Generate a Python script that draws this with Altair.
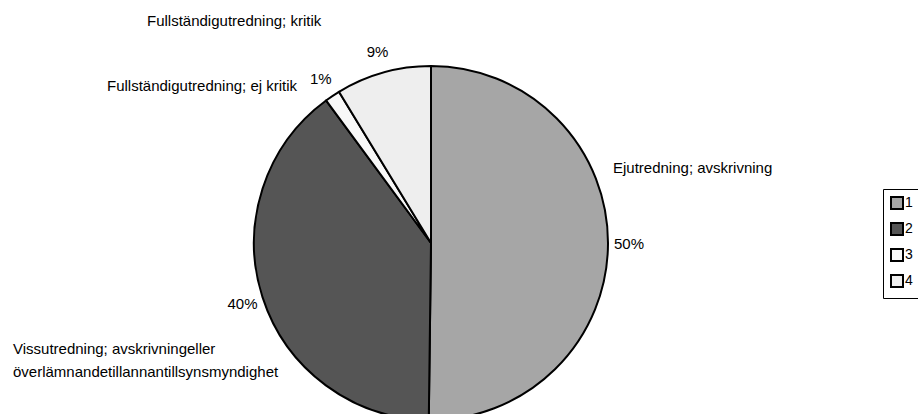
import altair as alt
import pandas as pd

# ---- data ----
legend_keys = ["1", "2", "3", "4"]
categories = [
    "Ejutredning; avskrivning",
    "Vissutredning; avskrivningeller överlämnandetillannantillsynsmyndighet",
    "Fullständigutredning; ej kritik",
    "Fullständigutredning; kritik",
]
shares = [50.2, 39.7, 1.4, 8.7]
pct_labels = ["50%", "40%", "1%", "9%"]
colors = ["#A6A6A6", "#555555", "#F8F8F8", "#EEEEEE"]

df = pd.DataFrame({
    "key": legend_keys,
    "category": categories,
    "share": shares,
    "pct": pct_labels,
    "idx": list(range(len(legend_keys))),
})

FONT = "Liberation Sans"
CX, CY, R = 431, 243, 177

base = alt.Chart(df)

pie = base.mark_arc(radius=R, stroke="black", strokeWidth=2).encode(
    theta=alt.Theta("share:Q", stack=True),
    order=alt.Order("idx:Q"),
    color=alt.Color(
        "key:N",
        scale=alt.Scale(domain=legend_keys, range=colors),
        legend=alt.Legend(
            title=None,
            orient="none",
            legendX=883,
            legendY=189,
            symbolType="square",
            symbolSize=144,
            symbolStrokeColor="black",
            symbolStrokeWidth=2,
            labelFont=FONT,
            labelFontSize=14,
            labelColor="black",
            labelOffset=1,
            strokeColor="black",
            fillColor="white",
            padding=7,
            rowPadding=6,
        ),
    ),
    x=alt.value(CX),
    y=alt.value(CY),
)

pct = base.mark_text(
    radius=198, font=FONT, fontSize=15, color="black", align="center", baseline="middle"
).encode(
    theta=alt.Theta("share:Q", stack=True),
    order=alt.Order("idx:Q"),
    text="pct:N",
    x=alt.value(CX),
    y=alt.value(CY),
)


def note(text, x, y):
    return alt.Chart(pd.DataFrame({"t": [text]})).mark_text(
        font=FONT, fontSize=15, color="black", align="left", baseline="middle"
    ).encode(text="t:N", x=alt.value(x), y=alt.value(y))


vis_lines = categories[1].split(" ", 2)
line1 = vis_lines[0] + " " + vis_lines[1]
line2 = vis_lines[2]

notes = [
    note(categories[3], 147, 21),
    note(categories[2], 107, 86),
    note(categories[0], 613, 168),
    note(line1, 13, 349),
    note(line2, 13, 372),
]

chart = alt.layer(pie, pct, *notes).properties(
    width=918,
    height=414,
    autosize=alt.AutoSizeParams(type="none"),
    padding=0,
    background="white",
).configure_view(stroke=None)

chart.save("out.html", embed_options={"renderer": "svg", "actions": False})
